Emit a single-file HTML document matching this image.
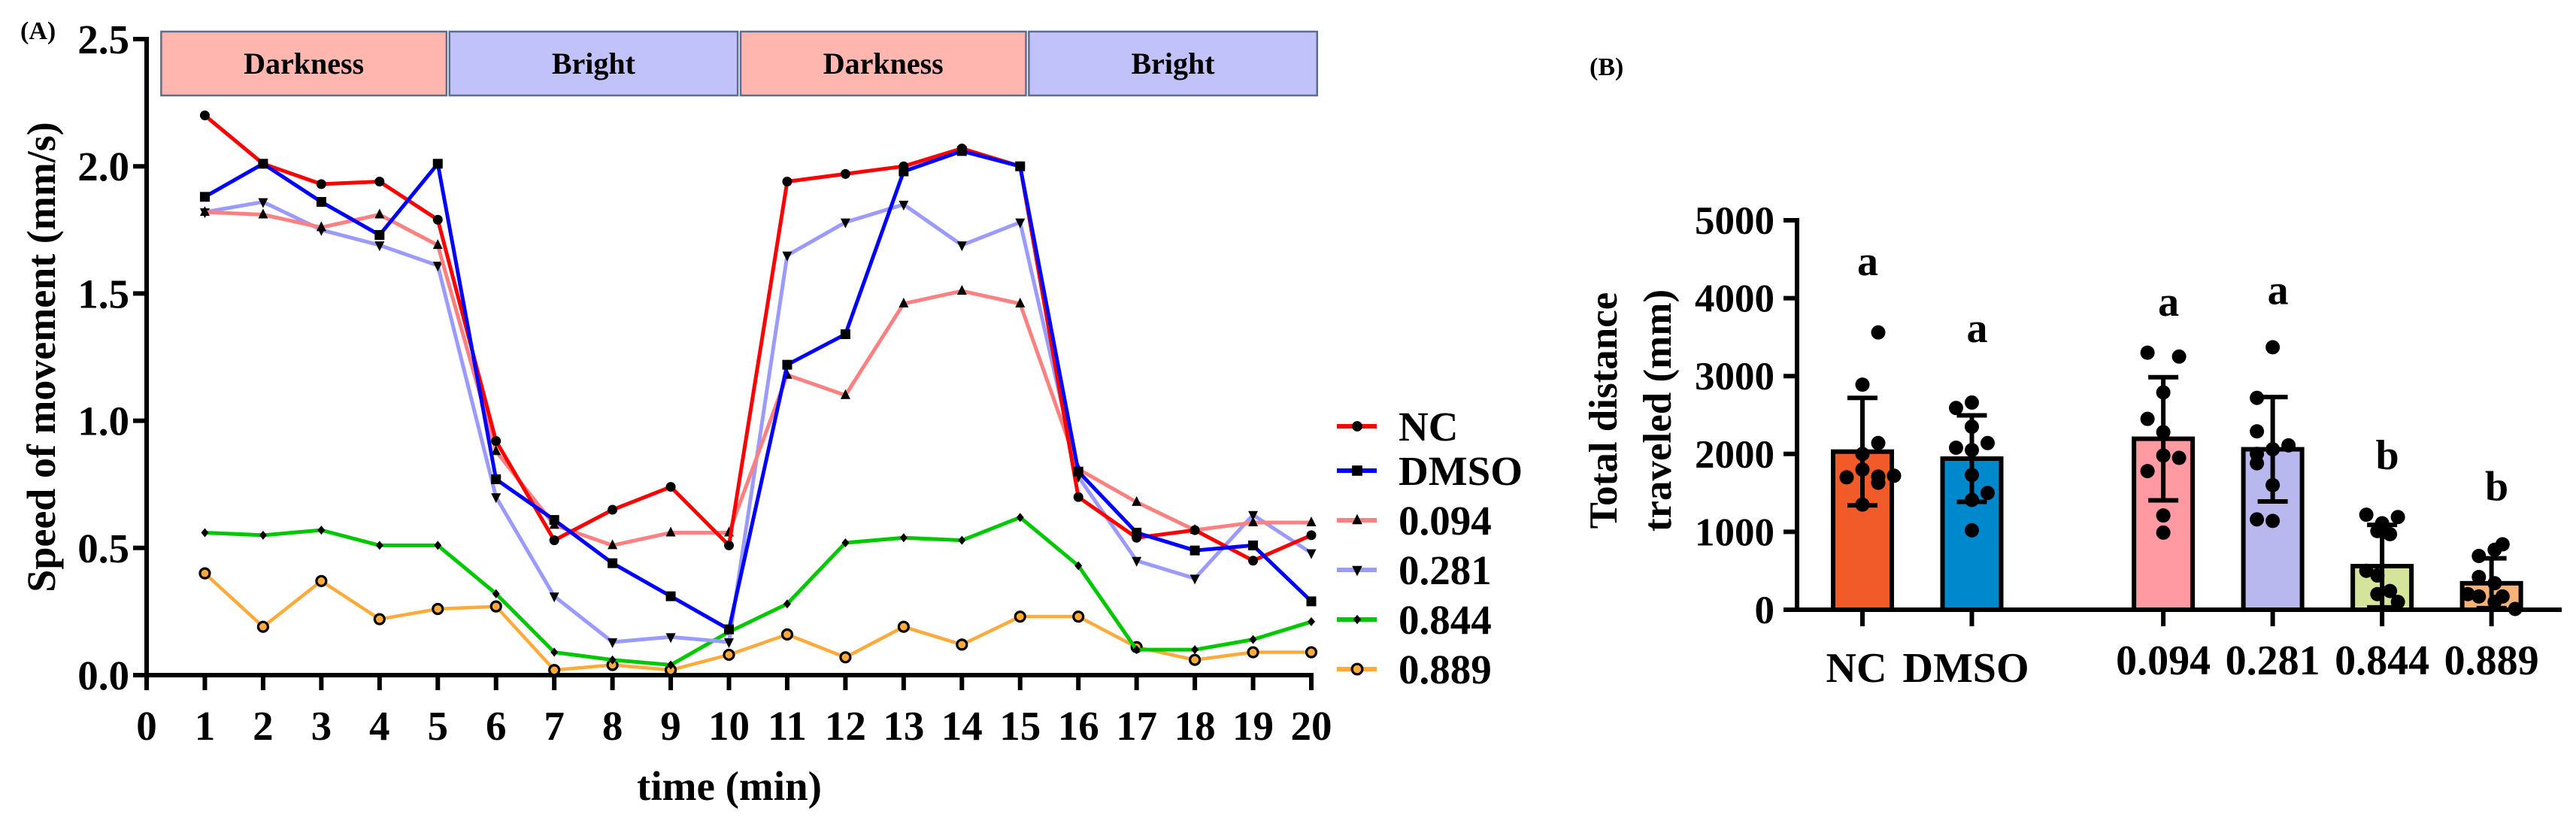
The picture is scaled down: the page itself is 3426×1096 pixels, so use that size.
<!DOCTYPE html>
<html><head><meta charset="utf-8">
<style>
html,body{margin:0;padding:0;background:#fff;}
svg{display:block;font-family:"Liberation Serif",serif;font-weight:bold;}
</style></head>
<body>
<svg id="fig" width="3426" height="1096" viewBox="0 0 3426 1096" xmlns="http://www.w3.org/2000/svg">
<g id="panelA"></g>
<g id="panelB"></g>
</svg>
<script>
// ---------- Panel A data ----------
const minutes = [1,2,3,4,5,6,7,8,9,10,11,12,13,14,15,16,17,18,19,20];
const xTicks = [0,1,2,3,4,5,6,7,8,9,10,11,12,13,14,15,16,17,18,19,20];
const yTicksA = [0.0,0.5,1.0,1.5,2.0,2.5];
const yTickLabelsA = ["0.0","0.5","1.0","1.5","2.0","2.5"];
const seriesNames = ["NC","DMSO","0.094","0.281","0.844","0.889"];
const ncValues   = [2.20,2.01,1.93,1.94,1.79,0.92,0.53,0.65,0.74,0.51,1.94,1.97,2.00,2.07,2.00,0.70,0.54,0.57,0.45,0.55];
const dmsoValues = [1.88,2.01,1.86,1.73,2.01,0.77,0.61,0.44,0.31,0.18,1.22,1.34,1.98,2.06,2.00,0.80,0.56,0.49,0.51,0.29];
const c094Values = [1.82,1.81,1.76,1.81,1.69,0.88,0.59,0.51,0.56,0.56,1.18,1.10,1.46,1.51,1.46,0.81,0.68,0.57,0.60,0.60];
const c281Values = [1.82,1.86,1.75,1.69,1.61,0.70,0.31,0.13,0.15,0.13,1.65,1.78,1.85,1.69,1.78,0.78,0.45,0.38,0.63,0.48];
const c844Values = [0.56,0.55,0.57,0.51,0.51,0.32,0.09,0.06,0.04,0.17,0.28,0.52,0.54,0.53,0.62,0.43,0.10,0.10,0.14,0.21];
const c889Values = [0.40,0.19,0.37,0.22,0.26,0.27,0.02,0.04,0.02,0.08,0.16,0.07,0.19,0.12,0.23,0.23,0.11,0.06,0.09,0.09];
const periodLabels = ["Darkness","Bright","Darkness","Bright"];
const periodStarts = [0.25,5.2,10.2,15.15];
const periodEnds = [5.15,10.15,15.1,20.1];

// ---------- Panel B data ----------
const groups = ["NC","DMSO","0.094","0.281","0.844","0.889"];
const groupSlots = [0,1,2.75,3.75,4.75,5.75];
const barMeans = [2030,1940,2195,2060,560,340];
const barSD = [690,555,790,670,530,320];
const sigLetters = ["a","a","a","a","b","b"];
const letterValues = [4420,3560,3900,4050,1930,1530];
const yTicksB = [0,1000,2000,3000,4000,5000];
const ncPts   = [3560,2890,2140,2000,1700,1710,1720,1800,1630,1350];
const dmsoPts = [2590,2660,2080,2140,2350,2050,1730,1500,1410,1020];
const c094Pts = [3300,3250,2790,2450,2280,1950,1780,1980,1210,990];
const c281Pts = [3370,2720,2290,2110,2000,2060,1880,1600,1160,1140];
const c844Pts = [1220,1190,1110,1010,970,500,440,240,200,100];
const c889Pts = [840,690,770,420,340,170,200,170,100,10];
const jitterIdx = [[1,0,1,0,-1,1,2,0,1,0],[-1,0,-1,1,0,0,0,1,0,0],[-1,1,0,-1,0,1,-1,0,0,0],[0,-1,-1,1,-1,0,-1,0,-1,0],[-1,1,0,-0.3,0.5,-1,-0.3,0.5,-0.3,1],[0.7,-0.8,0.2,-0.8,0.2,-0.8,-1.5,0.7,0.2,1.5]];

const NS="http://www.w3.org/2000/svg";
function mk(tag,attrs,parent,text){const e=document.createElementNS(NS,tag);for(const k in attrs)e.setAttribute(k,attrs[k]);if(text!==undefined)e.textContent=text;parent.appendChild(e);return e;}

// ===== Panel A =====
const A=document.getElementById('panelA');
const ax0=195, axUnit=77.45, ay0=898, ayUnit=338.4;
const xA=v=>ax0+v*axUnit, yA=v=>ay0-v*ayUnit;
let t;
t=mk('text',{x:27,y:52,'font-size':34},A,'(A)');


periodLabels.forEach((lab,i)=>{
  const g=mk('g',{},A);
  
  
  const x1=xA(periodStarts[i]), x2=xA(periodEnds[i]);
  mk('rect',{x:x1,y:42,width:x2-x1,height:85,fill:lab==="Darkness"?"#ffb6ae":"#c2c2fb",stroke:"#5a6e90","stroke-width":2.5},g);
  mk('text',{x:(x1+x2)/2,y:98,'font-size':40,'text-anchor':'middle'},g,lab);
});
let ax=mk('line',{x1:ax0,y1:yA(2.5)-3,x2:ax0,y2:ay0+3,stroke:'#000','stroke-width':6},A);


ax=mk('line',{x1:ax0-3,y1:ay0,x2:xA(20)+3,y2:ay0,stroke:'#000','stroke-width':6},A);


yTicksA.forEach((v,i)=>{
  mk('line',{x1:ax0-18,y1:yA(v),x2:ax0,y2:yA(v),stroke:'#000','stroke-width':6},A);
  t=mk('text',{x:172,y:yA(v)+19,'font-size':55,'text-anchor':'end'},A,yTickLabelsA[i]);
  
  
});
xTicks.forEach(v=>{
  mk('line',{x1:xA(v),y1:ay0,x2:xA(v),y2:ay0+20,stroke:'#000','stroke-width':6},A);
  t=mk('text',{x:xA(v),y:984,'font-size':55,'text-anchor':'middle'},A,String(v));
  
  
});
t=mk('text',{x:970,y:1064,'font-size':55,'text-anchor':'middle'},A,'time (min)');


t=mk('text',{x:0,y:0,'font-size':54,'text-anchor':'middle',transform:'translate(73,475) rotate(-90)'},A,'Speed of movement (mm/s)');



const seriesVals=[ncValues,dmsoValues,c094Values,c281Values,c844Values,c889Values];
const seriesColors=["#ff0000","#0000ff","#ff8080","#9a9aff","#00c800","#ffaa3a"];
const seriesWidths=[5,5,5,5,5,4.5];
const markerKinds=["circle","square","up","down","diamond","ring"];
function marker(g,kind,x,y,s){
  if(kind==="circle")mk('circle',{cx:x,cy:y,r:6.5*s,fill:'#000'},g);
  else if(kind==="square")mk('rect',{x:x-6.5*s,y:y-6.5*s,width:13*s,height:13*s,fill:'#000'},g);
  else if(kind==="up")mk('polygon',{points:`${x},${y-8*s} ${x-6.5*s},${y+5*s} ${x+6.5*s},${y+5*s}`,fill:'#000'},g);
  else if(kind==="down")mk('polygon',{points:`${x},${y+8*s} ${x-6.5*s},${y-5*s} ${x+6.5*s},${y-5*s}`,fill:'#000'},g);
  else if(kind==="diamond")mk('polygon',{points:`${x},${y-6*s} ${x+5*s},${y} ${x},${y+6*s} ${x-5*s},${y}`,fill:'#000'},g);
  else mk('circle',{cx:x,cy:y,r:6.5*s,fill:'#ffaa3a',stroke:'#000','stroke-width':3.2},g);
}
const drawOrder=[5,4,3,2,0,1];
drawOrder.forEach(si=>{
  const g=mk('g',{},A);
  
  
  const pts=minutes.map((m,i)=>xA(m)+','+yA(seriesVals[si][i])).join(' ');
  mk('polyline',{points:pts,fill:'none',stroke:seriesColors[si],'stroke-width':seriesWidths[si],'stroke-linejoin':'round'},g);
  minutes.forEach((m,i)=>{
    const p=mk('g',{},g);
    
    
    marker(p,markerKinds[si],xA(m),yA(seriesVals[si][i]),1);
  });
});
const legY=[567,626,692,758,824,890];
seriesNames.forEach((n,i)=>{
  const g=mk('g',{},A);
  
  
  mk('line',{x1:1778,y1:legY[i],x2:1831,y2:legY[i],stroke:seriesColors[i],'stroke-width':6},g);
  marker(g,markerKinds[i],1805,legY[i],1.05);
  mk('text',{x:1860,y:legY[i]+19,'font-size':55},g,n);
});

// ===== Panel B =====
const B=document.getElementById('panelB');
const bx0=2390, by0=811, byUnit=0.1036;
const slotX0=2477, slotW=145.5;
const xB=s=>slotX0+s*slotW, yB=v=>by0-v*byUnit;
t=mk('text',{x:2114,y:100,'font-size':34},B,'(B)');


t=mk('text',{x:0,y:0,'font-size':53,'text-anchor':'middle',transform:'translate(2150,546) rotate(-90)'},B,'Total distance');


t=mk('text',{x:0,y:0,'font-size':53,'text-anchor':'middle',transform:'translate(2222,546) rotate(-90)'},B,'traveled (mm)');


yTicksB.forEach(v=>{
  mk('line',{x1:bx0-18,y1:yB(v),x2:bx0,y2:yB(v),stroke:'#000','stroke-width':6},B);
  t=mk('text',{x:2360,y:yB(v)+18,'font-size':53,'text-anchor':'end'},B,String(v));
  
  
});
const barColors=["#f15a29","#0088cc","#ff9aa2","#b8b8ee","#d4e59b","#f7b27a"];
const allPts=[ncPts,dmsoPts,c094Pts,c281Pts,c844Pts,c889Pts];
groups.forEach((gname,i)=>{
  const g=mk('g',{},B);
  
  
  const cx=xB(groupSlots[i]);
  mk('rect',{x:cx-39,y:yB(barMeans[i]),width:78,height:by0-yB(barMeans[i]),fill:barColors[i],stroke:'#000','stroke-width':6},g);
  const e=mk('g',{},g);
  
  
  const hi=yB(barMeans[i]+barSD[i]), lo=yB(Math.max(0,barMeans[i]-barSD[i]));
  mk('line',{x1:cx,y1:hi,x2:cx,y2:lo,stroke:'#000','stroke-width':6},e);
  mk('line',{x1:cx-20,y1:hi,x2:cx+20,y2:hi,stroke:'#000','stroke-width':6},e);
  mk('line',{x1:cx-20,y1:lo,x2:cx+20,y2:lo,stroke:'#000','stroke-width':6},e);
  allPts[i].forEach((v,j)=>{
    const d=mk('circle',{cx:cx+jitterIdx[i][j]*21,cy:yB(v),r:9.5,fill:'#000'},g);
    
    
  });
  t=mk('text',{x:cx+7,y:yB(letterValues[i])+13,'font-size':56,'text-anchor':'middle'},B,sigLetters[i]);
  
  
  mk('line',{x1:cx,y1:by0,x2:cx,y2:by0+22,stroke:'#000','stroke-width':6},B);
  t=mk('text',{x:cx-(i<2?8:0),y:(i<2?907:897),'font-size':56,'text-anchor':'middle'},B,gname);
  
  
});
ax=mk('line',{x1:bx0,y1:yB(5000)-3,x2:bx0,y2:by0+3,stroke:'#000','stroke-width':6},B);


ax=mk('line',{x1:bx0-3,y1:by0,x2:3407,y2:by0,stroke:'#000','stroke-width':6},B);


</script>
</body></html>
